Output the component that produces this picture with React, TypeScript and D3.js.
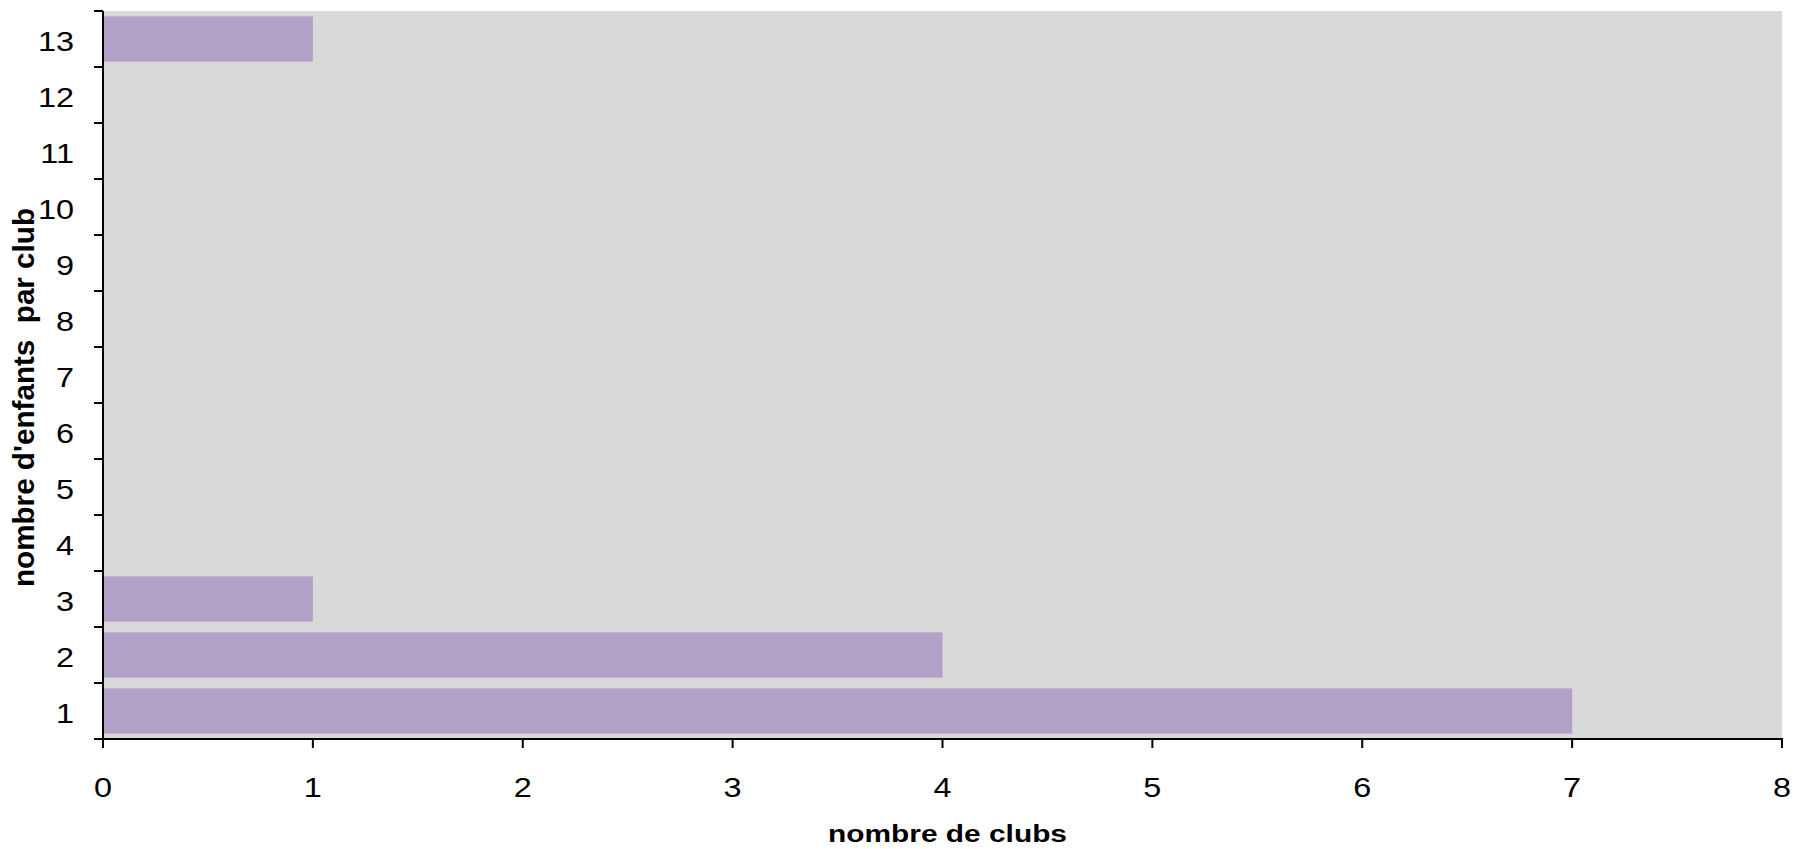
import React from "react";
import * as d3 from "d3";

const categories: string[] = ["1", "2", "3", "4", "5", "6", "7", "8", "9", "10", "11", "12", "13"];
const clubs: number[] = [7, 4, 1, 0, 0, 0, 0, 0, 0, 0, 0, 0, 1];
const xTicks: number[] = [0, 1, 2, 3, 4, 5, 6, 7, 8];
const xTitle = "nombre de clubs";
const yTitle = "nombre d'enfants  par club";

const W = 1794;
const H = 849;
const left = 103;
const right = 1782;
const top = 11;
const bottom = 739;
const FONT = "'Liberation Sans', Arial, Helvetica, sans-serif";
const SX = 1.2;

export default function App() {
  const x = d3.scaleLinear().domain([0, 8]).range([left, right]);
  const yBand = d3
    .scaleBand<string>()
    .domain([...categories].reverse())
    .range([top, bottom])
    .paddingInner(0.19)
    .paddingOuter(0.095);
  const yLin = d3.scaleLinear().domain([0.5, categories.length + 0.5]).range([bottom, top]);
  const yTickVals = d3.range(0.5, categories.length + 1, 1);

  return (
    <svg
      width={W}
      height={H}
      style={{ position: "absolute", left: 0, top: 0, background: "#ffffff" }}
    >
      <rect x={left} y={top} width={right - left} height={bottom - top} fill="#d9d9d9" />
      {categories.map((c, i) =>
        clubs[i] > 0 ? (
          <rect
            key={c}
            x={x(0)}
            y={yBand(c)!}
            width={x(clubs[i]) - x(0)}
            height={yBand.bandwidth()}
            fill="#b3a2c7"
          />
        ) : null
      )}
      {/* y axis */}
      <line x1={left} x2={left} y1={top} y2={bottom + 1} stroke="#000" strokeWidth={2} />
      {yTickVals.map((v) => (
        <line key={v} x1={left - 9} x2={left} y1={yLin(v)} y2={yLin(v)} stroke="#000" strokeWidth={2} />
      ))}
      {categories.map((c) => {
        const cy = yBand(c)! + yBand.bandwidth() / 2;
        return (
          <text
            key={c}
            transform={`translate(74,${cy + 11.5}) scale(${SX},1)`}
            textAnchor="end"
            fontFamily={FONT}
            fontSize={27}
            fill="#000"
          >
            {c}
          </text>
        );
      })}
      {/* x axis */}
      <line x1={left - 1} x2={right + 1} y1={bottom} y2={bottom} stroke="#000" strokeWidth={2} />
      {xTicks.map((t) => (
        <g key={t}>
          <line x1={x(t)} x2={x(t)} y1={bottom} y2={bottom + 9} stroke="#000" strokeWidth={2} />
          <text
            transform={`translate(${x(t)},796.5) scale(${SX},1)`}
            textAnchor="middle"
            fontFamily={FONT}
            fontSize={27}
            fill="#000"
          >
            {t}
          </text>
        </g>
      ))}
      <text
        x={947.5}
        y={842}
        textAnchor="middle"
        fontFamily={FONT}
        fontSize={23}
        fontWeight="bold"
        textLength={239}
        lengthAdjust="spacingAndGlyphs"
        fill="#000"
      >
        {xTitle}
      </text>
      <g transform="translate(34,397.5) scale(1.29,1) rotate(-90)">
        <text
          x={0}
          y={0}
          textAnchor="middle"
          fontFamily={FONT}
          fontSize={23.5}
          fontWeight="bold"
          textLength={379}
          lengthAdjust="spacingAndGlyphs"
          fill="#000"
          style={{ whiteSpace: "pre" }}
        >
          {yTitle}
        </text>
      </g>
    </svg>
  );
}
